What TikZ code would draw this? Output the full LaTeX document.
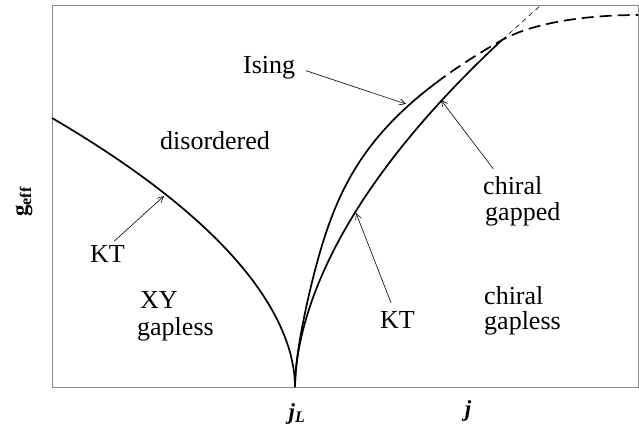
\documentclass[tikz,border=0pt]{standalone}
\usepackage{fontspec}
\setmainfont{Liberation Serif}
\usetikzlibrary{arrows.meta,positioning}

\begin{document}
\begin{tikzpicture}[x=1pt, y=-1pt,
  frame/.style={draw=black!45, line width=0.9pt},
  phase/.style={line width=1.7pt, black},
  phasedash/.style={phase, dash pattern=on 12pt off 6pt},
  guide/.style={black, line width=0.6pt, dash pattern=on 5pt off 4pt},
  lbl/.style={font=\fontsize{26}{28}\selectfont, inner sep=3pt, anchor=base west},
  axl/.style={font=\fontsize{23}{26}\selectfont\bfseries, inner sep=0pt},
  ptr/.style={-{Straight Barb[length=6pt,width=6pt]}, line width=0.6pt},
]
\useasboundingbox (0,0) rectangle (639,430);
\draw[frame] (52,5) rectangle (638.5,387);

% special points
\coordinate (jL) at (295,387);
\coordinate (tri) at (502,40);

% KT line of the XY phase
\draw[phase] plot[domain=1:0.02, samples=70, smooth]
  ({295-243*\x*\x},{387-269*\x^1.06}) -- (jL);

% Ising line, solid then dashed (s = height/100)
\draw[phase] (jL) -- plot[domain=0.01:3.04, samples=70, smooth]
  ({295+22.05*\x^1.8*(1-0.36*sin(180*\x/3.47))},{387-100*\x});
\draw[phasedash] plot[domain=3.04:3.47, samples=10, smooth]
  ({295+22.05*\x^1.8*(1-0.36*sin(180*\x/3.47))},{387-100*\x})
  .. controls (540,19.3) and (600,15) .. (638,15);

% KT line of the chiral phase
\draw[phase] (jL) -- plot[domain=0.01:3.47, samples=80, smooth]
  ({295+22.05*\x^1.8},{387-100*\x});
\draw[guide] (tri) -- (540,6);

% phase labels
\node[lbl] (dis) at (157,150) {disordered};
\node[lbl] (xy) at (137,308) {XY};
\node[lbl] (xyg) at (134,335) {gapless};
\node[lbl] (chg) at (480,195) {chiral};
\node[lbl] (gpd) at (482,221) {gapped};
\node[lbl] (chl) at (481,304) {chiral};
\node[lbl] (gpl) at (481,329) {gapless};

% transition labels
\node[lbl] (ising) at (240,74) {Ising};
\node[lbl] (ktl) at (87,262) {KT};
\node[lbl] (ktr) at (377,328) {KT};

\coordinate (isingtip) at (406,104);
\coordinate (gaptip) at (441,100);
\coordinate (ktrtip) at (356,213);
\coordinate (ktltip) at (164,196);

\draw[ptr, shorten <=8pt] (ising.east) -- (isingtip);
\draw[ptr, shorten <=6pt] ([xshift=17pt]chg.north west) -- (gaptip);
\draw[ptr, shorten <=5pt] (ktr) -- (ktrtip);
\draw[ptr, shorten <=1pt] ([xshift=6pt]ktl.north) -- (ktltip);

% axes
\node[axl, rotate=90] (geff) at (24,202) {g\textsubscript{eff}};
\node[axl, anchor=base] (jlab) at (297,419) {\itshape j\textsubscript{L}};
\node[axl, anchor=base] (jax) at (468,416) {\itshape j};
\end{tikzpicture}
\end{document}
